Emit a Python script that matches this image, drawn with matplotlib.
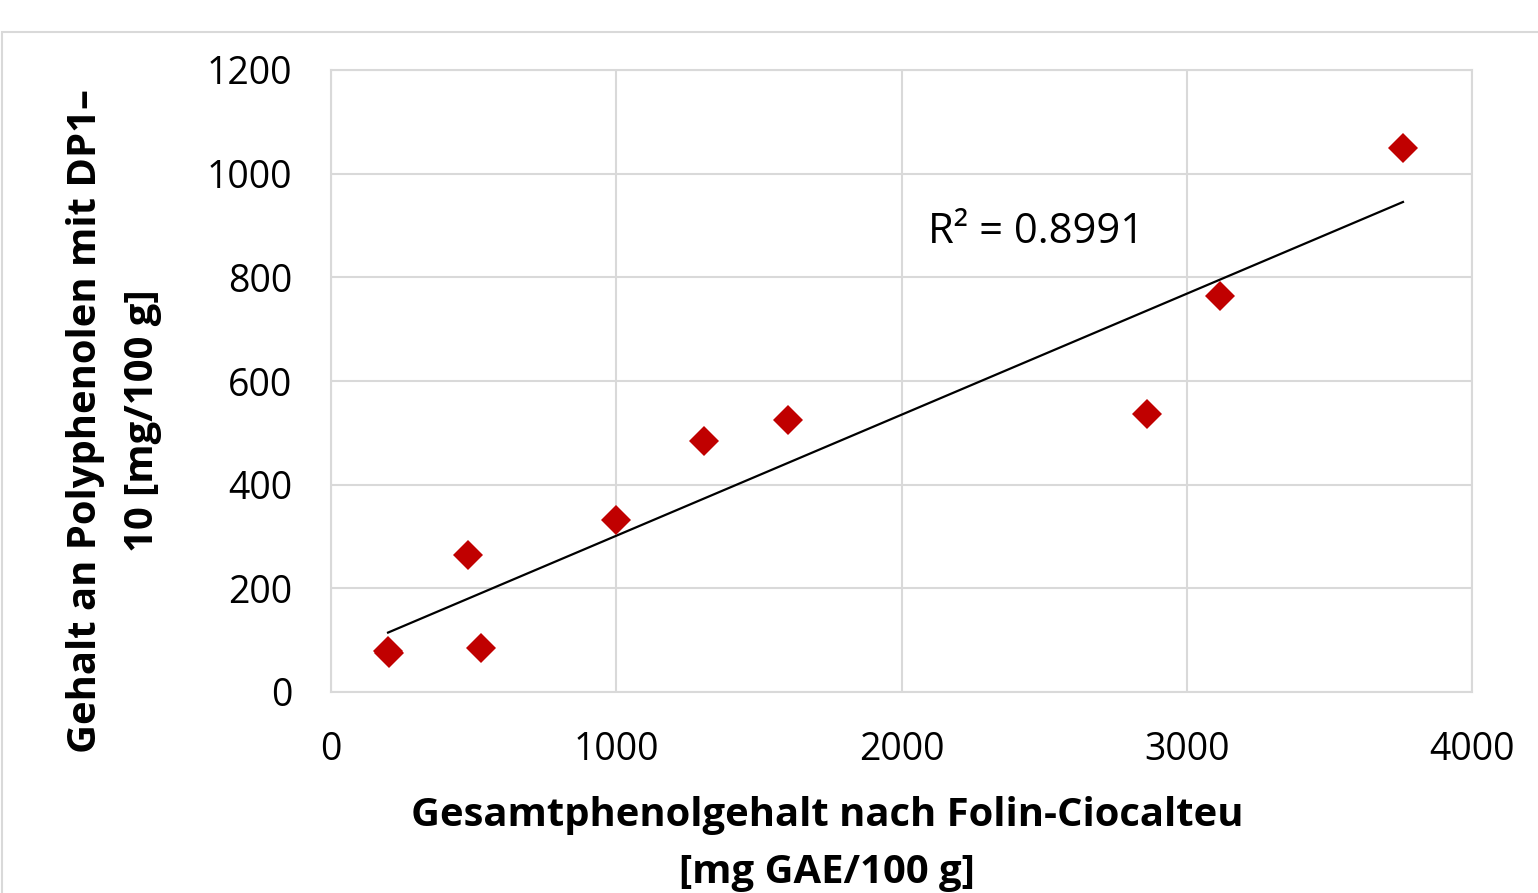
import numpy as np
import matplotlib
matplotlib.use("Agg")
import matplotlib.pyplot as plt
from matplotlib.patches import Rectangle

plt.rcParams['font.family'] = ['Open Sans', 'DejaVu Sans']

# data
fc_total = [200, 205, 480, 526, 1000, 1308, 1602, 2861, 3117, 3758]
dp_content = [80, 75, 264, 85, 332, 484, 525, 536, 764, 1050]
x_ticks = [0, 1000, 2000, 3000, 4000]
y_ticks = [0, 200, 400, 600, 800, 1000, 1200]
r2_text = "R² = 0.8991"

GRID = "#D9D9D9"
FS = 27
LFS = 28.8

W, H = 1538, 893
fig = plt.figure(figsize=(W / 100, H / 100), dpi=100)
ax = fig.add_axes([331 / W, 1 - 692 / H, (1472 - 331) / W, (692 - 70) / H])

# outer chart border (cropped at right and bottom)
fig.patches.append(Rectangle((2 / W, -0.2), 1.2, 1.2 - 32 / H, transform=fig.transFigure,
                             fill=False, edgecolor=GRID, linewidth=1.5))

x = np.array(fc_total, dtype=float)
y = np.array(dp_content, dtype=float)
k, d = np.polyfit(x, y, 1)
xl = np.array([x.min(), x.max()])
ax.plot(xl, k * xl + d, color="black", linewidth=1.6, zorder=2)

ax.plot(x, y, linestyle="none", marker="D", markersize=15.5, color="#C00000",
        markeredgewidth=0, zorder=3)

ax.text(2093, 887, r2_text, fontsize=30, ha="left", va="center")

ax.set_xlim(0, 4000)
ax.set_ylim(0, 1200)
ax.set_xticks(x_ticks)
ax.set_yticks(y_ticks)
ax.grid(True, color=GRID, linewidth=1.5)
ax.set_axisbelow(True)
for s in ax.spines.values():
    s.set_color(GRID)
    s.set_linewidth(1.5)
ax.tick_params(length=0, labelsize=FS)
ax.tick_params(axis="x", pad=28)
ax.tick_params(axis="y", pad=28)

ax.set_xlabel("Gesamtphenolgehalt nach Folin-Ciocalteu\n[mg GAE/100 g]",
              fontsize=LFS, fontweight="bold", linespacing=1.6)
ax.xaxis.set_label_coords(0.435, -0.168)
ax.xaxis.label.set_va("top")
ax.set_ylabel("Gehalt an Polyphenolen mit DP1–\n10 [mg/100 g]",
              fontsize=LFS, fontweight="bold", linespacing=1.6)
ax.yaxis.set_label_coords(-0.19, 0.436)
ax.yaxis.label.set_va("center")

fig.savefig("out.png", dpi=100)
